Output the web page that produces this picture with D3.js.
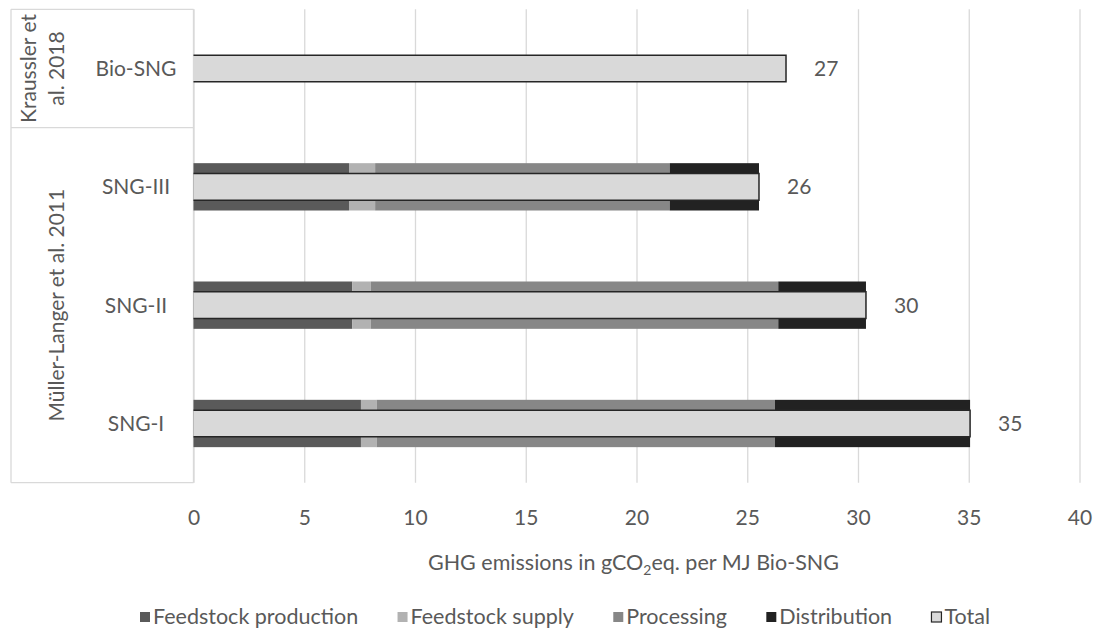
<!DOCTYPE html>
<html><head><meta charset="utf-8">
<script src="https://cdn.jsdelivr.net/npm/d3@7/dist/d3.min.js"></script>
<style>
body{margin:0;background:#fff}
svg{display:block}
text{font-family:Lato,"Liberation Sans",sans-serif;fill:#595959}
</style>
</head><body><svg id="c" width="1094" height="630"></svg>
<script>
// ---- data ----
const categories = ["Bio-SNG", "SNG-III", "SNG-II", "SNG-I"];
const groupLabels = [["Kraussler et", "al. 2018"], ["Müller-Langer et al. 2011"]];
const groupSizes = [1, 3];
const seriesNames = ["Feedstock production", "Feedstock supply", "Processing", "Distribution", "Total"];
const feedstockProduction = [0, 7.02, 7.17, 7.56];
const feedstockSupply = [0, 1.18, 0.83, 0.71];
const processing = [0, 13.30, 18.40, 17.98];
const distribution = [0, 4.03, 3.96, 8.81];
const total = [26.75, 25.53, 30.36, 35.06];
const totalLabels = ["27", "26", "30", "35"];
const xTicks = [0, 5, 10, 15, 20, 25, 30, 35, 40];
const axisTitleParts = ["GHG emissions in gCO", "2", "eq. per MJ Bio-SNG"];

// ---- styles ----
const colors = ["#5a5a5a", "#b2b2b2", "#878787", "#222222", "#d9d9d9"];
const gridColor = "#d9d9d9";
const fs = 21;
const fsBig = 21.5;

const svg = d3.select("#c");
const pLeft = 193.5, pRight = 1079.5, pTop = 9.35, pBottom = 482.65, frameLeft = 11;
const x = d3.scaleLinear().domain([0, 40]).range([pLeft, pRight]);
const y = d3.scaleBand().domain(categories).range([pTop, pBottom]).padding(0);
const bw = y.bandwidth();
const stackH = bw * 0.40, totalH = bw * 0.225;

// gridlines
svg.append("g").attr("transform", `translate(0,${pBottom})`)
  .call(d3.axisBottom(x).tickValues(xTicks).tickSize(-(pBottom - pTop)).tickFormat(""))
  .call(g => g.select(".domain").remove())
  .call(g => g.selectAll("line").attr("stroke", gridColor).attr("stroke-width", 1.3));

// frame for category table
const frame = svg.append("g").attr("stroke", gridColor).attr("stroke-width", 1.3).attr("fill", "none");
frame.append("line").attr("x1", frameLeft).attr("x2", frameLeft).attr("y1", pTop).attr("y2", pBottom);
frame.append("line").attr("x1", pLeft).attr("x2", pLeft).attr("y1", pTop).attr("y2", pBottom);
let acc = 0;
const boundaries = [0];
groupSizes.forEach(n => { acc += n; boundaries.push(acc); });
boundaries.forEach(b => {
  const yy = b < categories.length ? y(categories[b]) : pBottom;
  frame.append("line").attr("x1", frameLeft).attr("x2", pLeft).attr("y1", yy).attr("y2", yy);
});

// group labels
groupLabels.forEach((lines, i) => {
  const y0 = y(categories[boundaries[i]]);
  const y1 = boundaries[i + 1] < categories.length ? y(categories[boundaries[i + 1]]) : pBottom;
  const cy = (y0 + y1) / 2;
  const lh = 28;
  const t = svg.append("text").attr("transform", `translate(0,${cy}) rotate(-90)`)
    .attr("text-anchor", "middle").attr("font-size", fs);
  lines.forEach((ln, j) => {
    const baseX = (lines.length === 1 ? 63.5 : 36 + j * lh);
    t.append("tspan").attr("x", 0).attr("y", baseX).text(ln);
  });
});

// category labels
svg.append("g").selectAll("text").data(categories).join("text")
  .attr("x", 136).attr("y", d => y(d) + bw / 2).attr("dy", "0.35em")
  .attr("text-anchor", "middle").attr("font-size", fs).text(d => d);

// stacked component bars
const comps = [feedstockProduction, feedstockSupply, processing, distribution];
const rows = categories.map((c, i) => {
  const o = { cat: c };
  seriesNames.slice(0, 4).forEach((s, k) => o[s] = comps[k][i]);
  return o;
});
const stack = d3.stack().keys(seriesNames.slice(0, 4))(rows);
svg.append("g").selectAll("g").data(stack).join("g")
  .attr("fill", (d, k) => colors[k])
  .selectAll("rect").data(d => d.filter(v => v[1] - v[0] > 0)).join("rect")
  .attr("x", d => x(d[0])).attr("width", d => x(d[1]) - x(d[0]))
  .attr("y", d => y(d.data.cat) + bw / 2 - stackH / 2).attr("height", stackH);

// total bars
const tg = svg.append("g");
tg.selectAll("rect").data(categories).join("rect")
  .attr("x", x(0)).attr("width", (d, i) => x(total[i]) - x(0))
  .attr("y", d => y(d) + bw / 2 - totalH / 2).attr("height", totalH)
  .attr("fill", colors[4]);
tg.selectAll("path").data(categories).join("path")
  .attr("d", (d, i) => {
    const t0 = y(d) + bw / 2 - totalH / 2, t1 = t0 + totalH;
    return `M${x(0)},${t0}H${x(total[i])}V${t1}H${x(0)}`;
  })
  .attr("fill", "none").attr("stroke", "#262626").attr("stroke-width", 1.5);

// total labels
svg.append("g").selectAll("text").data(categories).join("text")
  .attr("x", (d, i) => x(total[i]) + 28).attr("y", d => y(d) + bw / 2).attr("dy", "0.35em")
  .attr("font-size", fs).text((d, i) => totalLabels[i]);

// x tick labels
svg.append("g").attr("transform", `translate(0,${pBottom})`)
  .call(d3.axisBottom(x).tickValues(xTicks).tickSize(0).tickPadding(27))
  .call(g => g.select(".domain").remove())
  .call(g => g.selectAll("text").attr("font-size", fs).attr("fill", "#595959"))
  .attr("font-family", null);

// axis title
const at = svg.append("text").attr("x", (pLeft + pRight) / 2 - 3).attr("y", 570)
  .attr("text-anchor", "middle").attr("font-size", fsBig);
at.append("tspan").text(axisTitleParts[0]);
at.append("tspan").attr("font-size", fsBig * 0.65).attr("dy", 5).text(axisTitleParts[1]);
at.append("tspan").attr("dy", -5).text(axisTitleParts[2]);

// legend
const lg = svg.append("g");
const items = lg.selectAll("g").data(seriesNames).join("g");
items.append("rect").attr("width", 10).attr("height", 10).attr("y", -12)
  .attr("fill", (d, i) => colors[i])
  .attr("stroke", (d, i) => i === 4 ? "#262626" : "none").attr("stroke-width", 1.2);
items.append("text").attr("x", 13).attr("y", 0).attr("font-size", fsBig).text(d => d);
const widths = [];
items.each(function () { widths.push(this.getBBox().width); });
const legStart = 140, legEnd = 990;
const gap = (legEnd - legStart - d3.sum(widths)) / (widths.length - 1);
let start = legStart;
items.attr("transform", (d, i) => {
  const xx = start;
  start += widths[i] + gap;
  return `translate(${xx},624)`;
});
</script>
</body></html>
